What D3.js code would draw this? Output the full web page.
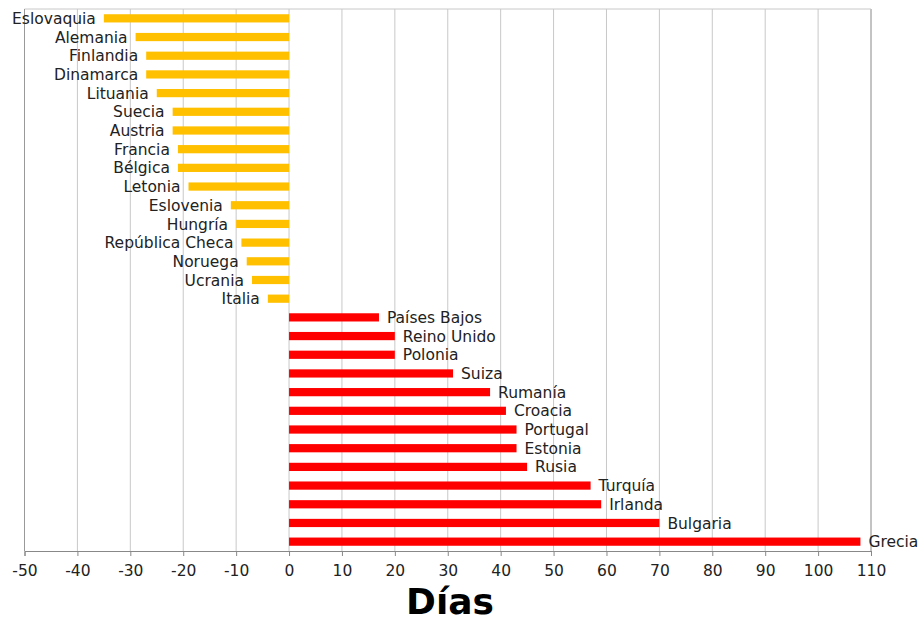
<!DOCTYPE html>
<html><head><meta charset="utf-8">
<script src="https://cdn.jsdelivr.net/npm/d3@7"></script>
<style>body{margin:0;background:#fff}svg{display:block}</style>
</head><body>
<script>
const categories = ["Eslovaquia","Alemania","Finlandia","Dinamarca","Lituania","Suecia","Austria","Francia","Bélgica","Letonia","Eslovenia","Hungría","República Checa","Noruega","Ucrania","Italia","Países Bajos","Reino Unido","Polonia","Suiza","Rumanía","Croacia","Portugal","Estonia","Rusia","Turquía","Irlanda","Bulgaria","Grecia"];
const values = [-35,-29,-27,-27,-25,-22,-22,-21,-21,-19,-11,-10,-9,-8,-7,-4,17,20,20,31,38,41,43,43,45,57,59,70,108];
const xTicks = [-50,-40,-30,-20,-10,0,10,20,30,40,50,60,70,80,90,100,110];
const axisTitle = "Días";

const W = 918, H = 621;
const m = {left:24.5, right:47, top:9, bottom:70};
const svg = d3.select("body").append("svg").attr("width",W).attr("height",H);
const x = d3.scaleLinear().domain([-50,110]).range([m.left, W-m.right]);
const y = d3.scaleBand().domain(categories).range([m.top, H-m.bottom]).paddingInner(0.56).paddingOuter(0.28);
const FONT = "DejaVu Sans, Verdana, sans-serif";

// gridlines
svg.append("g").selectAll("line").data(xTicks).join("line")
  .attr("x1",d=>x(d)).attr("x2",d=>x(d)).attr("y1",m.top).attr("y2",H-m.bottom)
  .attr("stroke",d=>d===110?"#888":"#c8c8c8").attr("stroke-width",1);
// frame top & left
svg.append("line").attr("x1",m.left).attr("x2",x(110)).attr("y1",m.top).attr("y2",m.top).attr("stroke","#c8c8c8");
svg.append("line").attr("x1",m.left).attr("x2",m.left).attr("y1",m.top).attr("y2",H-m.bottom).attr("stroke","#999");

// bars
svg.append("g").selectAll("rect").data(categories).join("rect")
  .attr("x",(d,i)=>x(Math.min(0,values[i])))
  .attr("width",(d,i)=>Math.abs(x(values[i])-x(0)))
  .attr("y",d=>y(d)).attr("height",y.bandwidth())
  .attr("fill",(d,i)=>values[i]<0?"#FFC000":"#FF0000");

// labels
svg.append("g").selectAll("text").data(categories).join("text")
  .attr("x",(d,i)=>values[i]<0?x(values[i])-8:x(values[i])+8)
  .attr("y",d=>y(d)+y.bandwidth()/2)
  .attr("dy","0.36em")
  .attr("text-anchor",(d,i)=>values[i]<0?"end":"start")
  .attr("font-family",FONT).attr("font-size",15.5)
  .attr("fill","#222").text(d=>d);

// x axis
const ax = svg.append("g").attr("transform",`translate(0,${H-m.bottom})`)
  .call(d3.axisBottom(x).tickValues(xTicks).tickSize(5).tickPadding(9).tickFormat(d=>String(d)));
ax.select(".domain").attr("stroke","#888");
ax.selectAll(".tick line").attr("stroke","#888");
ax.selectAll("text").attr("font-family",FONT).attr("font-size",15.5).attr("fill","#222");

svg.append("text").attr("x",450).attr("y",614).attr("text-anchor","middle")
  .attr("font-family",FONT).attr("font-weight","bold").attr("font-size",36)
  .attr("fill","#000").text(axisTitle);
</script>
</body></html>
